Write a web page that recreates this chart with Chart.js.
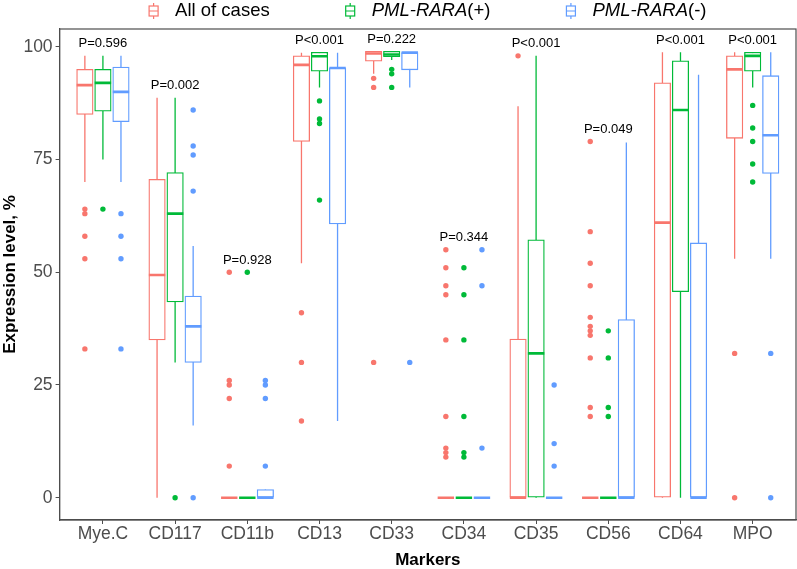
<!DOCTYPE html>
<html lang="en">
<head>
    <meta charset="UTF-8">
    <title>Expression level by marker</title>
    <script src="https://cdn.jsdelivr.net/npm/chart.js"></script>
    <style>
        body { margin: 0; background: #fff; }
    </style>
</head>
<body>
    <canvas id="chart" width="797" height="569"></canvas>

    <script>
        // categories and tick labels
        const markers = ['Mye.C', 'CD117', 'CD11b', 'CD13', 'CD33', 'CD34', 'CD35', 'CD56', 'CD64', 'MPO'];
        const pValues = ['P=0.596', 'P=0.002', 'P=0.928', 'P<0.001', 'P=0.222', 'P=0.344', 'P<0.001', 'P=0.049', 'P<0.001', 'P<0.001'];
        const yTicks = [0, 25, 50, 75, 100];
        const groupNames = ['All of cases', 'PML-RARA(+)', 'PML-RARA(-)'];

        // All of cases
        const allLow = [70, 0, 0, 52, 94, 0, 0, 0, 0, 53];
        const allQ1 = [85, 35, 0, 79, 96.8, 0, 0, 0, 0, 79.7];
        const allMedian = [91.5, 49.4, 0, 96, 98.5, 0, 0, 0, 61, 95];
        const allQ3 = [95, 70.6, 0, 98, 99, 0, 35.2, 0, 92, 98];
        const allHigh = [98, 88.7, 0, 98.7, 99, 0, 86.8, 0, 98.8, 98.8];
        const allOutliers = [[64, 63, 58, 53, 33], [], [50, 26, 25, 22, 7], [41, 30, 17], [93, 91, 30],
            [55, 51, 47, 45, 35, 18, 11, 10, 9], [98], [79, 59, 52, 47, 40, 38, 37, 36, 31, 20, 18], [], [32, 0]];

        // PML-RARA(+)
        const posLow = [75, 30, 0, 91, 97.1, 0, 0, 0, 0, 91];
        const posQ1 = [85.7, 43.4, 0, 94.6, 97.8, 0, 0, 0, 45.7, 94.6];
        const posMedian = [92, 63, 0, 97.9, 98.3, 0, 32, 0, 86, 98];
        const posQ3 = [95, 72.1, 0, 98.8, 99, 0, 57.2, 0, 96.9, 98.8];
        const posHigh = [98, 88.7, 0, 98.8, 99, 0, 98, 0, 98.8, 98.8];
        const posOutliers = [[64], [0], [50], [88, 84, 83, 66], [95, 94, 91], [51, 45, 35, 18, 10, 9],
            [], [37, 31, 20, 18], [], [87, 82, 79, 74, 70]];

        // PML-RARA(-)
        const negLow = [70, 16, 0, 17, 91, 0, 0, 0, 0, 53];
        const negQ1 = [83.4, 30, 0, 60.7, 94.9, 0, 0, 0, 0, 71.9];
        const negMedian = [90, 38, 0, 95.3, 98.7, 0, 0, 0, 0, 80.4];
        const negQ3 = [95.5, 44.7, 1.8, 95.3, 98.7, 0, 0, 39.5, 56.5, 93.6];
        const negHigh = [98, 55.8, 1.8, 98.7, 98.7, 0, 0, 78.8, 93.8, 98.8];
        const negOutliers = [[63, 58, 53, 33], [86, 78, 76, 68, 0], [26, 25, 22, 7], [], [30], [55, 47, 11],
            [25, 12, 7], [], [], [32, 0]];

        const groups = [
            { low: allLow, q1: allQ1, med: allMedian, q3: allQ3, high: allHigh, out: allOutliers },
            { low: posLow, q1: posQ1, med: posMedian, q3: posQ3, high: posHigh, out: posOutliers },
            { low: negLow, q1: negQ1, med: negMedian, q3: negQ3, high: negHigh, out: negOutliers }
        ];
        const colors = ['#F8766D', '#00BA38', '#619CFF'];
        const dodge = [-0.25, 0, 0.25];
        const fontFamily = '"Liberation Sans", Arial, sans-serif';

        Chart.defaults.font.family = fontFamily;

        const datasets = [];
        groups.forEach((g, k) => {
            const at = i => i + 1 + dodge[k];

            // whiskers (drawn under the white boxes)
            const whiskers = [];
            markers.forEach((m, i) => {
                whiskers.push({ x: at(i), y: g.low[i] }, { x: at(i), y: g.high[i] }, { x: at(i), y: null });
            });
            datasets.push({
                type: 'line', data: whiskers, borderColor: colors[k], borderWidth: 1.3,
                pointRadius: 0, spanGaps: false, order: 3
            });

            // boxes
            datasets.push({
                type: 'bar', data: markers.map((m, i) => ({ x: at(i), y: [g.q1[i], g.q3[i]] })),
                backgroundColor: '#fff', borderColor: colors[k], borderWidth: 1.3,
                borderSkipped: false, grouped: false, barThickness: 16.5, order: 2
            });

            // medians
            datasets.push({
                type: 'scatter', data: markers.map((m, i) => ({ x: at(i), y: g.med[i] })),
                pointStyle: 'line', pointRadius: 8.2, borderColor: colors[k], borderWidth: 2.6, order: 1
            });

            // outliers
            const pts = [];
            g.out.forEach((list, i) => list.forEach(v => pts.push({ x: at(i), y: v })));
            datasets.push({
                type: 'scatter', data: pts, pointRadius: 2.7, backgroundColor: colors[k],
                borderWidth: 0, order: 0
            });
        });

        // panel border, p-values and the boxplot legend
        const annotate = {
            id: 'annotate',
            afterDatasetsDraw(chart) {
                const { ctx, chartArea: a, scales: { x, y } } = chart;
                ctx.save();
                ctx.strokeStyle = '#4D4D4D';
                ctx.lineWidth = 1.2;
                ctx.strokeRect(a.left, a.top, a.right - a.left, a.bottom - a.top);

                ctx.fillStyle = '#000';
                ctx.font = '13px ' + fontFamily;
                ctx.textAlign = 'center';
                ctx.textBaseline = 'middle';
                markers.forEach((m, i) => {
                    const top = Math.max(...groups.map(g => Math.max(g.high[i], ...g.out[i])));
                    ctx.fillText(pValues[i], x.getPixelForValue(i + 1), y.getPixelForValue(top) - 12);
                });

                // legend
                const plain = '18.5px ' + fontFamily, italic = 'italic 18.5px ' + fontFamily;
                const parts = groupNames.map(n => n.startsWith('PML-RARA')
                    ? [['PML-RARA', italic], [n.slice(8), plain]] : [[n, plain]]);
                const widths = parts.map(p => p.reduce((s, [t, f]) => { ctx.font = f; return s + ctx.measureText(t).width; }, 0));
                const iconW = 9, gap = 17, spacing = 76;
                const total = widths.reduce((s, w) => s + iconW + gap + w, 0) + spacing * (parts.length - 1);
                let px = (a.left + a.right) / 2 - total / 2;
                const cy = 11;
                ctx.textAlign = 'left';
                ctx.textBaseline = 'middle';
                parts.forEach((p, k) => {
                    const cx = px + iconW / 2;
                    ctx.strokeStyle = colors[k];
                    ctx.lineWidth = 1.2;
                    ctx.beginPath();
                    ctx.moveTo(cx, cy - 8); ctx.lineTo(cx, cy - 5);
                    ctx.moveTo(cx, cy + 5); ctx.lineTo(cx, cy + 8);
                    ctx.moveTo(px, cy); ctx.lineTo(px + iconW, cy);
                    ctx.stroke();
                    ctx.strokeRect(px, cy - 5, iconW, 10);
                    let tx = px + iconW + gap;
                    ctx.fillStyle = '#000';
                    p.forEach(([t, f]) => { ctx.font = f; ctx.fillText(t, tx, cy); tx += ctx.measureText(t).width; });
                    px += iconW + gap + widths[k] + spacing;
                });
                ctx.restore();
            }
        };

        new Chart(document.getElementById('chart'), {
            data: { datasets },
            plugins: [annotate],
            options: {
                responsive: false,
                animation: false,
                events: [],
                layout: { autoPadding: false, padding: { top: 29, left: 0, right: 1, bottom: 0 } },
                plugins: {
                    legend: { display: false },
                    tooltip: { enabled: false }
                },
                scales: {
                    x: {
                        type: 'linear', min: 0.4, max: 10.6, offset: false,
                        afterBuildTicks: s => { s.ticks = markers.map((m, i) => ({ value: i + 1 })); },
                        ticks: {
                            callback: v => markers[Math.round(v) - 1],
                            font: { size: 17.5, lineHeight: 1 }, color: '#4D4D4D',
                            padding: 1, maxRotation: 0, autoSkip: false
                        },
                        grid: { display: true, offset: false, drawOnChartArea: false, tickLength: 4, color: '#4D4D4D' },
                        border: { color: '#4D4D4D', width: 1.2 },
                        title: {
                            display: true, text: 'Markers', color: '#000',
                            font: { size: 17, weight: 'bold', lineHeight: 1 }, padding: { top: 8.5, bottom: 0 }
                        }
                    },
                    y: {
                        type: 'linear', min: -4.95, max: 103.95,
                        afterBuildTicks: s => { s.ticks = yTicks.map(v => ({ value: v })); },
                        ticks: { font: { size: 17.5 }, color: '#4D4D4D', padding: 3 },
                        grid: { display: true, drawOnChartArea: false, tickLength: 4, color: '#4D4D4D' },
                        border: { color: '#4D4D4D', width: 1.2 },
                        title: {
                            display: true, text: 'Expression level, %', color: '#000',
                            font: { size: 17, weight: 'bold' }, padding: { top: 0, bottom: 0 }
                        }
                    }
                }
            }
        });
    </script>
</body>
</html>
